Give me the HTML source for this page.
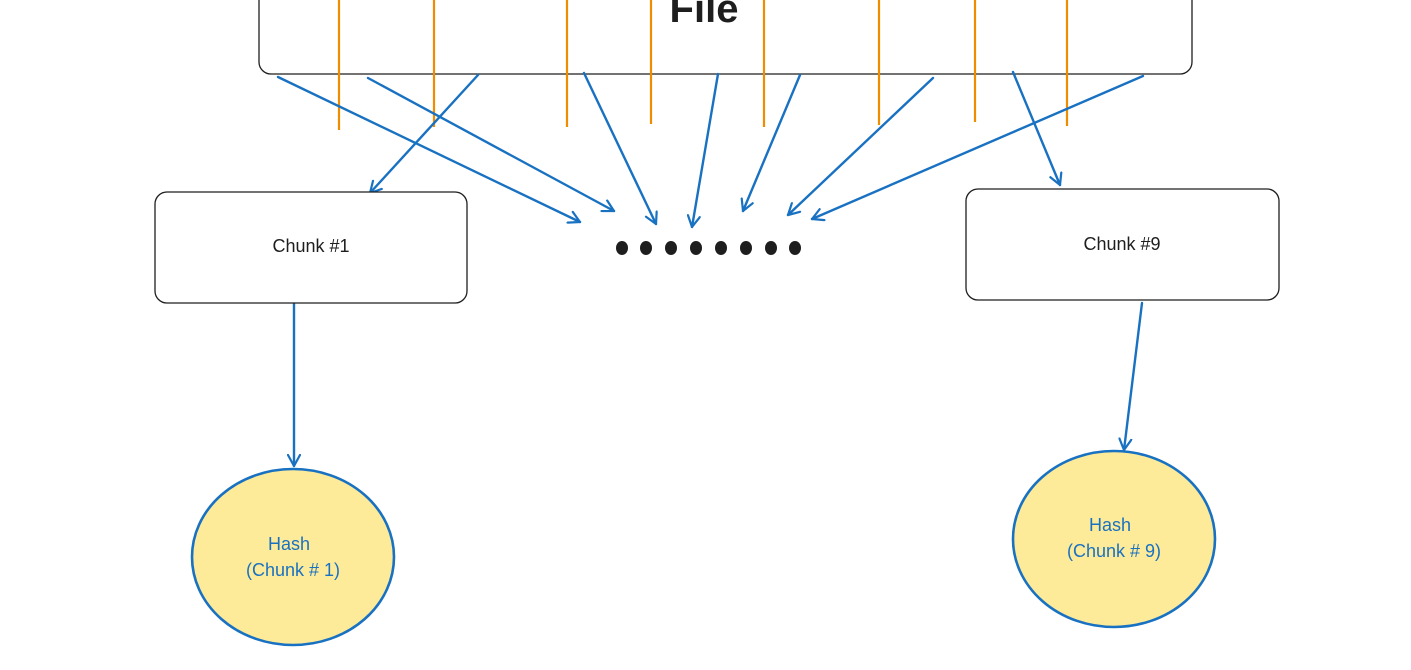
<!DOCTYPE html>
<html><head><meta charset="utf-8"><style>
html,body{margin:0;padding:0;background:#fff;width:1411px;height:670px;overflow:hidden}
svg{display:block}
text{font-family:"Liberation Sans",sans-serif}
</style></head><body>
<svg width="1411" height="670" viewBox="0 0 1411 670" xmlns="http://www.w3.org/2000/svg">
<defs>
<marker id="a" markerWidth="14" markerHeight="14" refX="12" refY="7" orient="auto" markerUnits="userSpaceOnUse">
<path d="M1,1 L12,7 L1,13" fill="none" stroke="#1971c2" stroke-width="2.2" stroke-linecap="round" stroke-linejoin="round"/>
</marker>
</defs>
<rect x="259" y="-40" width="933" height="114" rx="12" fill="#fff" stroke="#1e1e1e" stroke-width="1.3"/>
<text x="704" y="22" font-size="40" text-anchor="middle" fill="#1e1e1e" font-weight="bold">File</text>
<g stroke="#f08c00" stroke-width="2.2">
<line x1="339" y1="0" x2="339" y2="130"/>
<line x1="434" y1="0" x2="434" y2="127"/>
<line x1="567" y1="0" x2="567" y2="127"/>
<line x1="651" y1="0" x2="651" y2="124"/>
<line x1="764" y1="0" x2="764" y2="127"/>
<line x1="879" y1="0" x2="879" y2="125"/>
<line x1="975" y1="0" x2="975" y2="122"/>
<line x1="1067" y1="0" x2="1067" y2="126"/>
</g>
<g stroke="#1971c2" stroke-width="2.4" fill="none" marker-end="url(#a)" stroke-linecap="round">
<line x1="278" y1="77" x2="580" y2="222"/>
<line x1="368" y1="78" x2="614" y2="211"/>
<line x1="478" y1="75" x2="370" y2="193"/>
<line x1="584" y1="73" x2="656" y2="224"/>
<line x1="718" y1="74" x2="692" y2="227"/>
<line x1="800" y1="75" x2="743" y2="211"/>
<line x1="933" y1="78" x2="788" y2="215"/>
<line x1="1143" y1="76" x2="812" y2="219"/>
<line x1="1013" y1="72" x2="1060" y2="185"/>
<line x1="294" y1="304" x2="294" y2="466"/>
<line x1="1142" y1="303" x2="1124" y2="450"/>
</g>
<rect x="155" y="192" width="312" height="111" rx="12" fill="#fff" stroke="#1e1e1e" stroke-width="1.3"/>
<text x="311" y="252" font-size="18" text-anchor="middle" fill="#1e1e1e">Chunk #1</text>
<rect x="966" y="189" width="313" height="111" rx="12" fill="#fff" stroke="#1e1e1e" stroke-width="1.3"/>
<text x="1122" y="250" font-size="18" text-anchor="middle" fill="#1e1e1e">Chunk #9</text>
<g fill="#1e1e1e">
<ellipse cx="622" cy="248" rx="6" ry="7"/><ellipse cx="646" cy="248" rx="6" ry="7"/>
<ellipse cx="671" cy="248" rx="6" ry="7"/><ellipse cx="696" cy="248" rx="6" ry="7"/>
<ellipse cx="721" cy="248" rx="6" ry="7"/><ellipse cx="746" cy="248" rx="6" ry="7"/>
<ellipse cx="771" cy="248" rx="6" ry="7"/><ellipse cx="795" cy="248" rx="6" ry="7"/>
</g>
<ellipse cx="293" cy="557" rx="101" ry="88" fill="#fdeb9a" stroke="#1971c2" stroke-width="2.6"/>
<text x="289" y="550" font-size="18" text-anchor="middle" fill="#1971c2">Hash</text>
<text x="293" y="576" font-size="18" text-anchor="middle" fill="#1971c2">(Chunk # 1)</text>
<ellipse cx="1114" cy="539" rx="101" ry="88" fill="#fdeb9a" stroke="#1971c2" stroke-width="2.6"/>
<text x="1110" y="531" font-size="18" text-anchor="middle" fill="#1971c2">Hash</text>
<text x="1114" y="557" font-size="18" text-anchor="middle" fill="#1971c2">(Chunk # 9)</text>
</svg>
</body></html>
